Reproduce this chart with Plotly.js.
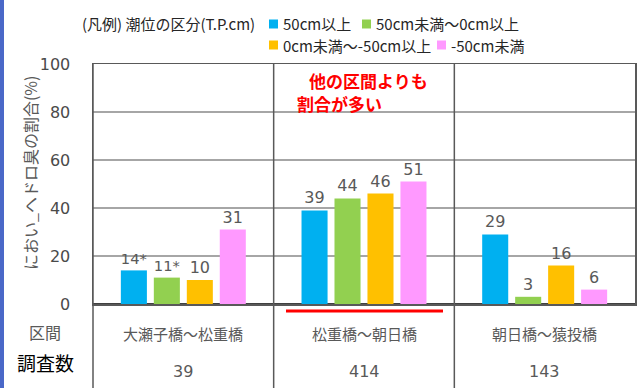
<!DOCTYPE html>
<html><head><meta charset="utf-8">
<script src="https://cdn.plot.ly/plotly-3.0.1.min.js"></script>
<style>html,body{margin:0;padding:0;background:#fff;}#chart{width:637px;height:388px;}</style>
</head><body><div id="chart"></div>
<script>
const categories = ["大瀬子橋～松重橋", "松重橋～朝日橋", "朝日橋～猿投橋"];
const counts = ["39", "414", "143"];
const seriesNames = ["50cm以上", "50cm未満～0cm以上", "0cm未満～-50cm以上", "-50cm未満"];
const s1 = [14, 39, 29];
const s2 = [11, 44, 3];
const s3 = [10, 46, 16];
const s4 = [31, 51, 6];
const s1Text = ["14*", "39", "29"];
const s2Text = ["11*", "44", "3"];
const s3Text = ["10", "46", "16"];
const s4Text = ["31", "51", "6"];
const colors = ["#00B0F0", "#92D050", "#FFC000", "#FF99FF"];
const yTicks = [0, 20, 40, 60, 80, 100];
const yTitle = "におい_ヘドロ臭の割合(%)";

const W = 637, H = 388, L = 93, R = 2, T = 64, B = 84;
const pw = W - L - R, ph = H - T - B;
const px = x => (x - L) / pw;
const py = y => (H - B - y) / ph;

const labelFont = {family: "DejaVu Sans, Noto Sans CJK JP, sans-serif", size: 16, color: "#595959"};
const jpFont = {family: "Noto Sans CJK JP, sans-serif", size: 15, color: "#595959"};

const vals = [s1, s2, s3, s4];
const texts = [s1Text, s2Text, s3Text, s4Text];
const data = vals.map((v, i) => ({
  type: "bar", x: categories, y: v, name: seriesNames[i],
  marker: {color: colors[i]}, text: texts[i], textposition: "outside",
  textfont: labelFont, cliponaxis: false, showlegend: false, hoverinfo: "skip"
}));

const shapes = [];
const annotations = [];
[L, L + pw / 3, L + 2 * pw / 3].forEach(x => {
  shapes.push({type: "line", xref: "paper", yref: "paper", x0: px(x), x1: px(x), y0: 1, y1: py(H),
    line: {color: "#595959", width: 1.5}});
});
shapes.push({type: "line", xref: "paper", yref: "paper", x0: px(286), x1: px(443), y0: py(311), y1: py(311),
  line: {color: "#FF0000", width: 3}});
shapes.push({type: "rect", xref: "paper", yref: "paper", x0: px(0), x1: px(4), y0: py(H), y1: py(0),
  fillcolor: "#4a68c8", line: {width: 0}});

categories.forEach((c, i) => {
  const cx = L + pw * (i + 0.5) / 3;
  annotations.push({xref: "paper", yref: "paper", x: px(cx), y: py(333), text: c, showarrow: false,
    font: jpFont, xanchor: "center", yanchor: "middle"});
  annotations.push({xref: "paper", yref: "paper", x: px(cx), y: py(371), text: counts[i], showarrow: false,
    font: labelFont, xanchor: "center", yanchor: "middle"});
});
annotations.push({xref: "paper", yref: "paper", x: px(45), y: py(332), text: "区間", showarrow: false,
  font: {family: "Noto Sans CJK JP, sans-serif", size: 16, color: "#595959"}, xanchor: "center", yanchor: "middle"});
annotations.push({xref: "paper", yref: "paper", x: px(45), y: py(362), text: "調査数", showarrow: false,
  font: {family: "Noto Sans CJK JP, sans-serif", size: 19, color: "#000000"}, xanchor: "center", yanchor: "middle"});
// y title
annotations.push({xref: "paper", yref: "paper", x: px(30), y: py(173), text: yTitle, showarrow: false, textangle: -90,
  font: {family: "Noto Sans CJK JP, sans-serif", size: 16, color: "#595959"}, xanchor: "center", yanchor: "middle"});

const redFont = {family: "Noto Sans CJK JP, sans-serif", size: 17, color: "#FF0000"};
annotations.push({xref: "paper", yref: "paper", x: px(307), y: py(80), text: "<b>他の区間よりも</b>", showarrow: false,
  font: redFont, xanchor: "left", yanchor: "middle"});
annotations.push({xref: "paper", yref: "paper", x: px(295), y: py(103), text: "<b>割合が多い</b>", showarrow: false,
  font: redFont, xanchor: "left", yanchor: "middle"});

const legFont = {family: "Noto Sans CJK JP, sans-serif", size: 15, color: "#262626"};
annotations.push({xref: "paper", yref: "paper", x: px(80), y: py(24), text: "(凡例) 潮位の区分(T.P.cm)", showarrow: false,
  font: legFont, xanchor: "left", yanchor: "middle"});
const legPos = [[269, 24], [362, 24], [269, 45], [437, 45]];
seriesNames.forEach((n, i) => {
  const [lx, ly] = legPos[i];
  shapes.push({type: "rect", xref: "paper", yref: "paper", x0: px(lx), x1: px(lx + 9), y0: py(ly - 4.5), y1: py(ly + 4.5),
    fillcolor: colors[i], line: {width: 0}});
  annotations.push({xref: "paper", yref: "paper", x: px(lx + 12), y: py(ly), text: n, showarrow: false,
    font: legFont, xanchor: "left", yanchor: "middle"});
});

const layout = {
  width: W, height: H, margin: {l: L, r: R, t: T, b: B},
  paper_bgcolor: "#ffffff", plot_bgcolor: "#ffffff",
  barmode: "group", bargap: 0.27, bargroupgap: 0.21,
  showlegend: false,
  xaxis: {showticklabels: false, showgrid: false, zeroline: false, showline: true, mirror: true,
    linecolor: "#595959", linewidth: 1.5, fixedrange: true},
  yaxis: {range: [0, 100], tickvals: yTicks, showgrid: true, gridcolor: "#a6a6a6", gridwidth: 1.3,
    zeroline: true, zerolinecolor: "#404040", zerolinewidth: 2,
    showline: true, mirror: true, linecolor: "#595959", linewidth: 1.5,
    tickfont: {family: "DejaVu Sans, sans-serif", size: 16, color: "#4a4a4a"},
    ticklabelstandoff: 18,
    fixedrange: true},
  shapes: shapes, annotations: annotations
};
Plotly.newPlot("chart", data, layout, {displayModeBar: false, staticPlot: true});
</script></body></html>
